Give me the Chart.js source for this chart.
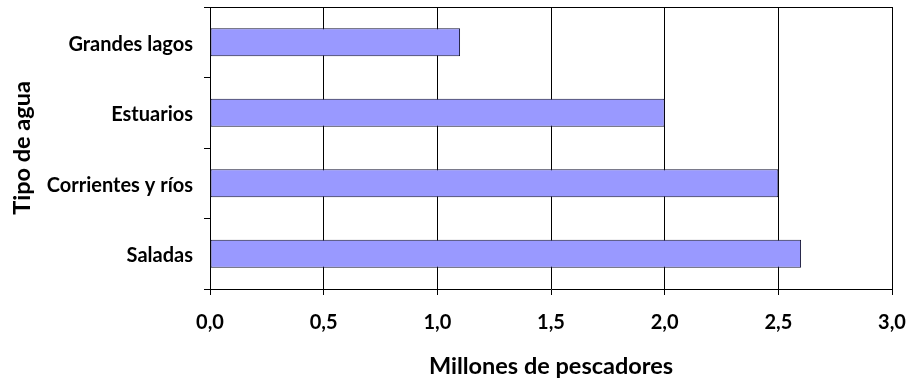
<!DOCTYPE html>
<html>
<head>
<meta charset="utf-8">
<script src="https://cdn.jsdelivr.net/npm/chart.js@4/dist/chart.umd.min.js"></script>
<style>
  html, body { margin: 0; padding: 0; background: #fff; }
  #wrap { width: 911px; height: 385px; position: relative; }
</style>
</head>
<body>
<div id="wrap"><canvas id="c" width="911" height="385"></canvas></div>
<script>
const categories = ["Grandes lagos", "Estuarios", "Corrientes y ríos", "Saladas"];
const values = [1.1, 2.0, 2.5, 2.6];
const xTickValues = [0, 0.5, 1.0, 1.5, 2.0, 2.5, 3.0];
const xTitle = "Millones de pescadores";
const yTitle = "Tipo de agua";

const FONT = "Lato, 'Open Sans', sans-serif";

const borderPlugin = {
  id: 'areaBorder',
  afterDraw(chart) {
    const a = chart.chartArea, ctx = chart.ctx;
    ctx.save();
    ctx.strokeStyle = '#000';
    ctx.lineWidth = 1;
    ctx.beginPath();
    ctx.moveTo(a.left, Math.round(a.top) + 0.5);
    ctx.lineTo(a.right, Math.round(a.top) + 0.5);
    ctx.stroke();
    ctx.restore();
  }
};

new Chart(document.getElementById('c'), {
  type: 'bar',
  data: {
    labels: categories,
    datasets: [{
      data: values,
      backgroundColor: '#9999FF',
      borderColor: '#141433',
      borderWidth: 1,
      borderSkipped: false,
      categoryPercentage: 1.0,
      barPercentage: 0.4
    }]
  },
  options: {
    indexAxis: 'y',
    responsive: false,
    animation: false,
    devicePixelRatio: 1,
    layout: { padding: { top: 7, right: 19, bottom: 0, left: 0 } },
    plugins: { legend: { display: false }, tooltip: { enabled: false } },
    scales: {
      x: {
        min: 0, max: 3,
        afterBuildTicks(scale) { scale.ticks = xTickValues.map(v => ({ value: v })); },
        afterFit(scale) { scale.height = 96; scale.paddingLeft = 0; scale.paddingRight = 0; },
        ticks: {
          color: '#000',
          font: { family: FONT, size: 20, weight: 'bold' },
          padding: 16,
          maxRotation: 0,
          callback: v => Number(v).toFixed(1).replace('.', ',')
        },
        grid: { color: '#000', lineWidth: 1, tickLength: 6, drawOnChartArea: true },
        border: { color: '#000', width: 1 },
        title: {
          display: true, text: xTitle, color: '#000',
          font: { family: FONT, size: 23.5, weight: 'bold' },
          padding: 4
        }
      },
      y: {
        afterFit(scale) { scale.width = 210; scale.paddingTop = 0; scale.paddingBottom = 0; },
        ticks: {
          color: '#000',
          font: { family: FONT, size: 20, weight: 'bold' },
          padding: 11,
          labelOffset: 2
        },
        grid: { color: '#000', lineWidth: 1, tickLength: 6, drawOnChartArea: false, offset: true },
        border: { color: '#000', width: 1 },
        title: {
          display: true, text: yTitle, color: '#000',
          font: { family: FONT, size: 23.5, weight: 'bold' },
          padding: 8
        }
      }
    }
  },
  plugins: [borderPlugin]
});
</script>
</body>
</html>
